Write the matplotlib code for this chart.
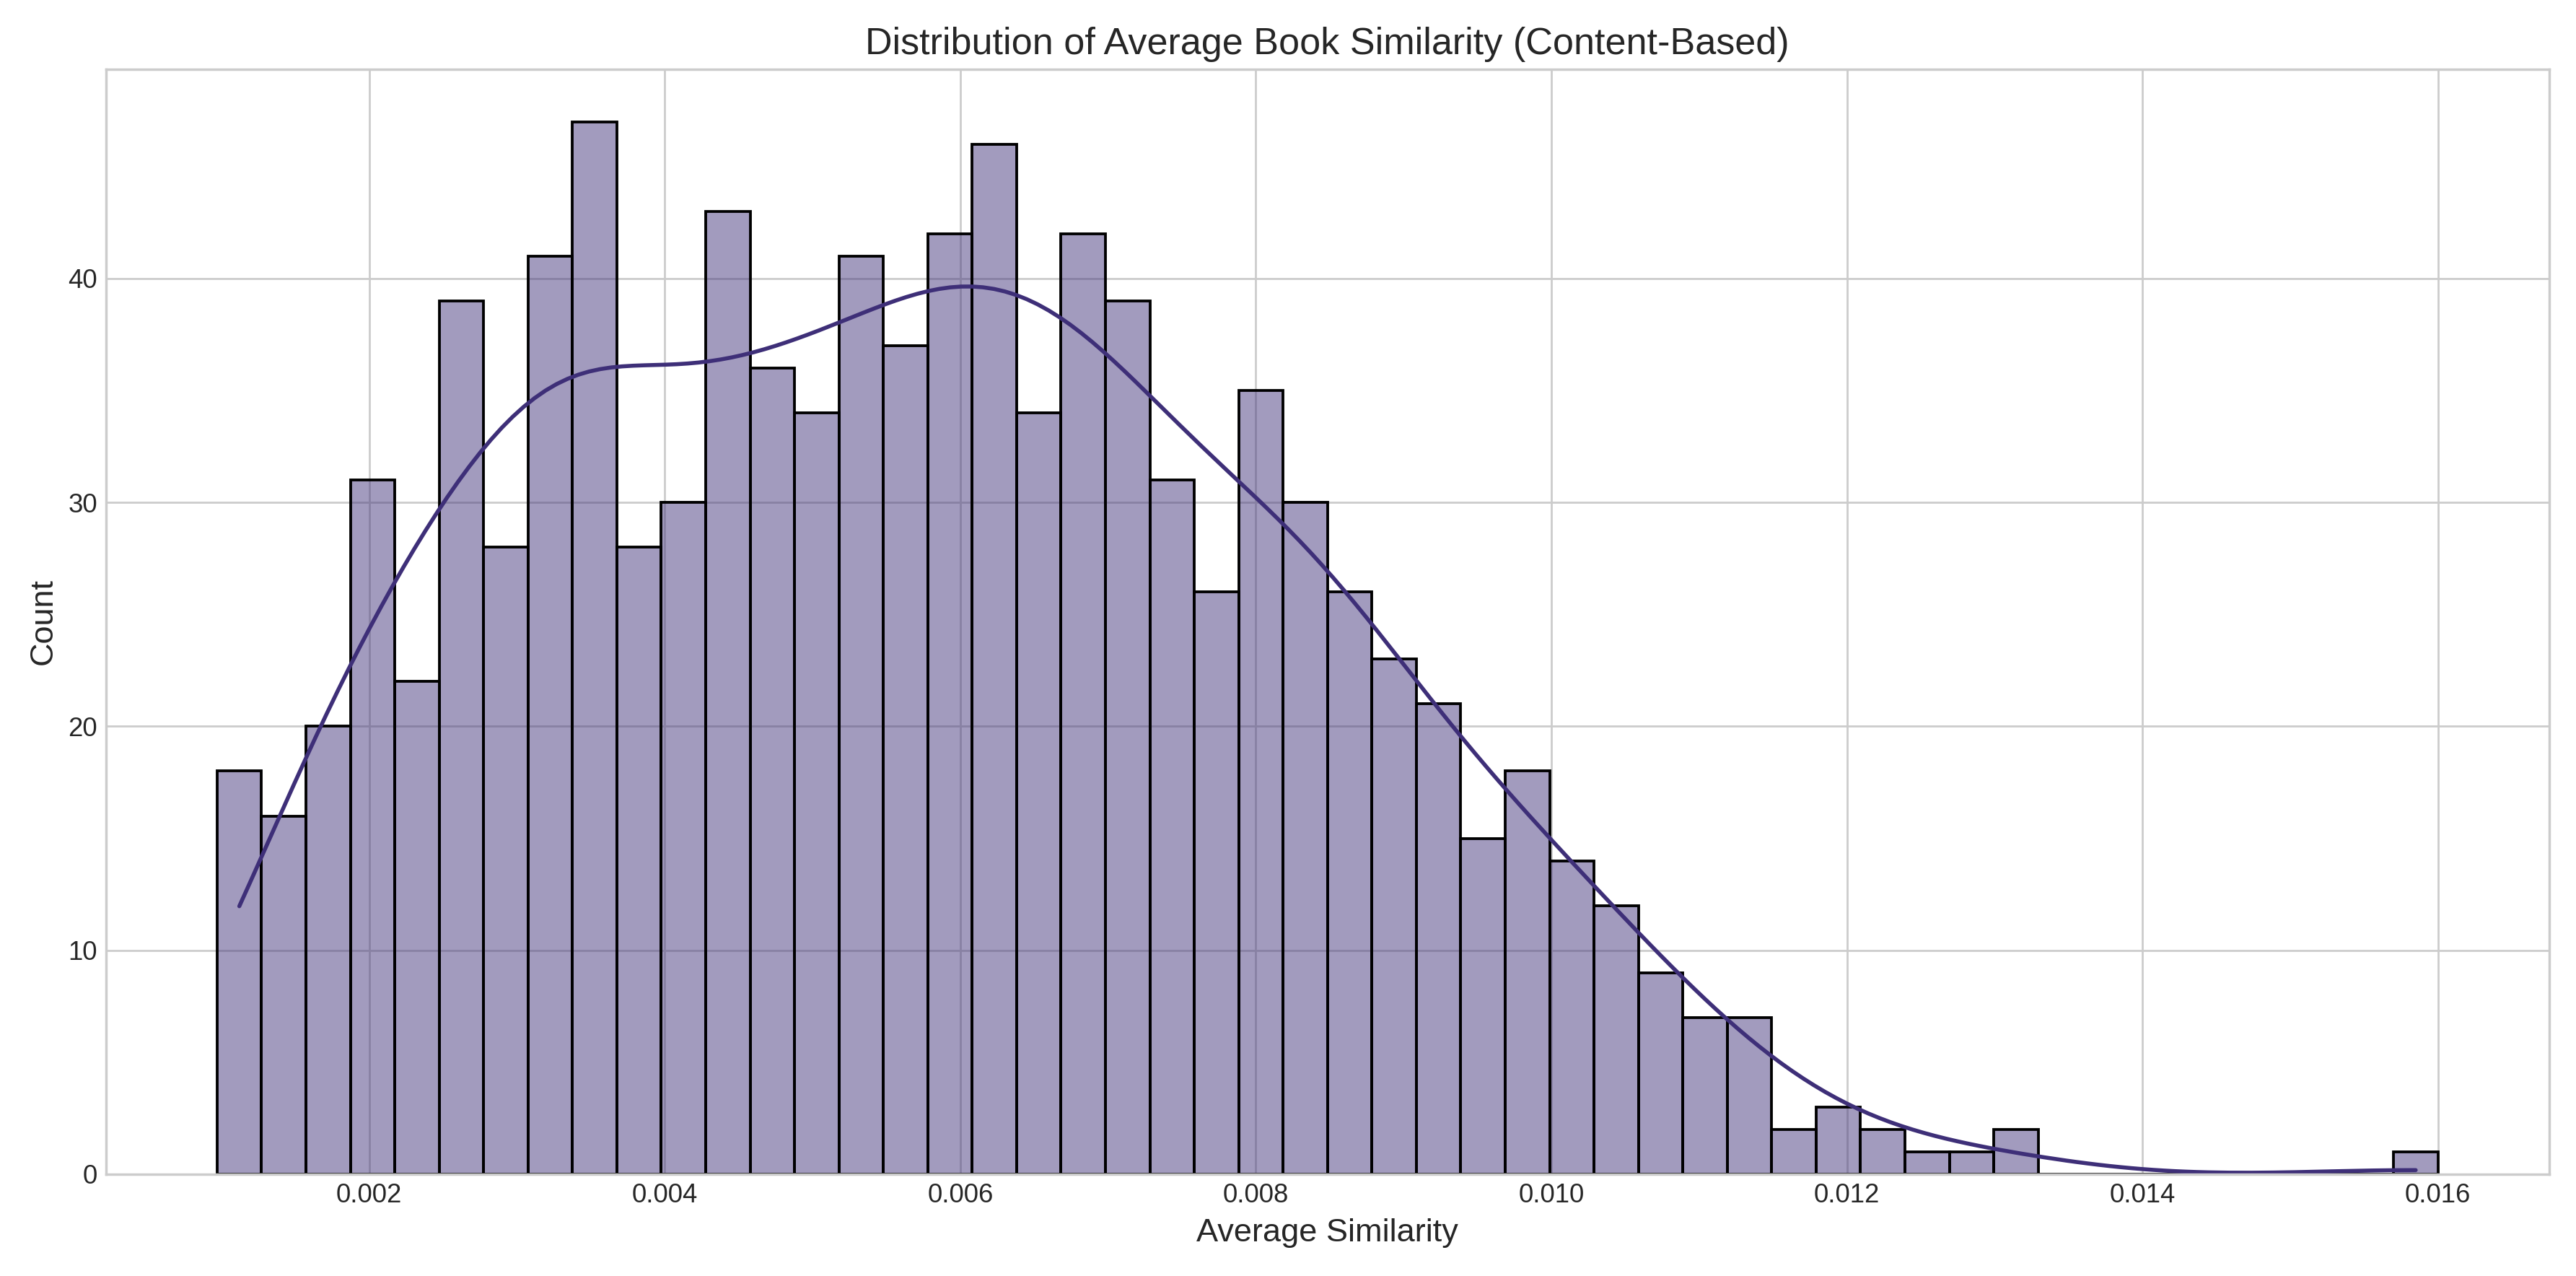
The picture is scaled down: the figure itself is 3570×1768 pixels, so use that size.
import matplotlib
matplotlib.use("Agg")
import matplotlib.pyplot as plt
import numpy as np
import seaborn as sns

lo, hi = 0.00097, 0.0160
n_bins = 50
counts = [18, 16, 20, 31, 22, 39, 28, 41, 47, 28, 30, 43, 36, 34, 41, 37, 42, 46, 34, 42,
          39, 31, 26, 35, 30, 26, 23, 21, 15, 18, 14, 12, 9, 7, 7, 2, 3, 2, 1, 1,
          2, 0, 0, 0, 0, 0, 0, 0, 0, 1]

edges = np.linspace(lo, hi, n_bins + 1)
centers = (edges[:-1] + edges[1:]) / 2
values = np.repeat(centers, counts)

plt.style.use("seaborn-v0_8-whitegrid")
fig, ax = plt.subplots(figsize=(14.28, 7.072))
color = "#3e2f78"
sns.histplot(values, bins=n_bins, binrange=(lo, hi), kde=True, color=color,
             edgecolor="black", linewidth=1.1, alpha=0.48, ax=ax,
             line_kws={"linewidth": 1.6})
ax.set_title("Distribution of Average Book Similarity (Content-Based)", fontsize=15)
ax.set_xlabel("Average Similarity", fontsize=13)
ax.set_ylabel("Count", fontsize=13)
ax.tick_params(labelsize=10.5)
for s in ax.spines.values():
    s.set_visible(True)
    s.set_color("#cccccc")
fig.tight_layout()
fig.savefig("out.png", dpi=250)
